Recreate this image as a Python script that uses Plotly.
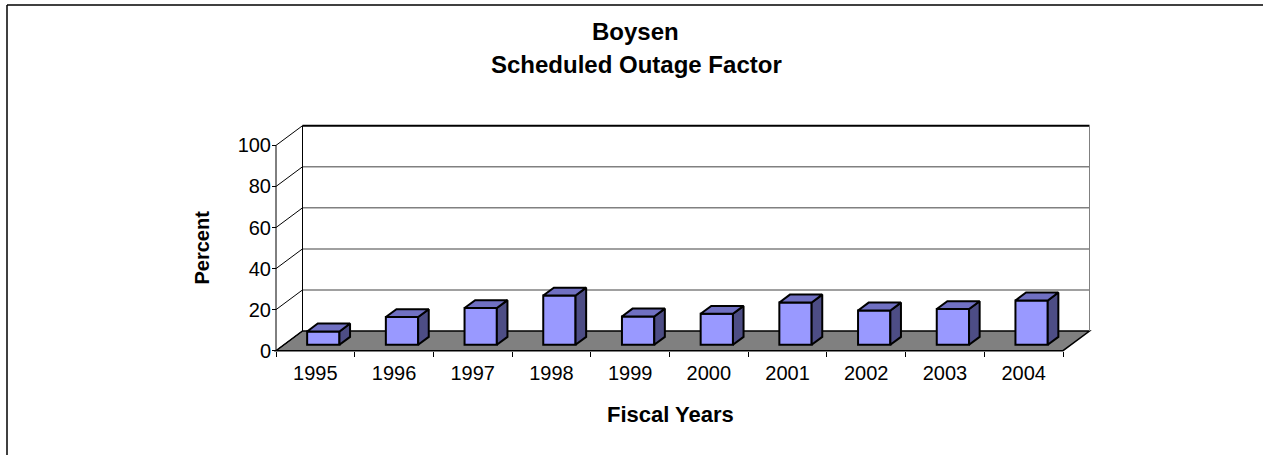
import plotly.graph_objects as go

# data
years = ['1995', '1996', '1997', '1998', '1999', '2000', '2001', '2002', '2003', '2004']
outage = [6.5, 13.5, 17.9, 24.0, 13.8, 15.1, 20.6, 16.7, 17.4, 21.6]
yticks = [0, 20, 40, 60, 80, 100]

W, H = 1263, 455
FONT = 'Liberation Sans, Arial, sans-serif'

# pixel geometry of the oblique "3D" plot
X0_PX, Y0_PX = 276.0, 350.7      # front-left corner of floor
CAT_PX, UNIT_PX = 78.7, 2.053    # one category / one percent
DEPTH_PX = (26.5, 19.7)          # floor depth offset (right, up)
BOX = (255, 1100, 110, 362)      # plot area left, right, top, bottom

DX = DEPTH_PX[0] / CAT_PX
DY = DEPTH_PX[1] / UNIT_PX
n = len(years)
idx = list(range(n))
xr0 = (BOX[0] - X0_PX) / CAT_PX - 0.5
xr1 = (BOX[1] - X0_PX) / CAT_PX - 0.5
yr0 = (Y0_PX - BOX[3]) / UNIT_PX
yr1 = (Y0_PX - BOX[2]) / UNIT_PX

d0, d1 = 0.3, 0.7
bar_w = 32.3 / CAT_PX
ddx, ddy = (d1 - d0) * DX, (d1 - d0) * DY
base = d0 * DY

fig = go.Figure()

# front faces
fig.add_trace(go.Bar(
    x=[i + d0 * DX for i in idx],
    y=outage,
    base=base,
    width=bar_w,
    marker=dict(color='#9999FF', line=dict(color='black', width=2)),
    hoverinfo='skip',
    showlegend=False
))

side_x, side_y, top_x, top_y = [], [], [], []
for i, v in zip(idx, outage):
    xl = i + d0 * DX - bar_w / 2
    xr = xl + bar_w
    side_x += [xr, xr + ddx, xr + ddx, xr, xr, None]
    side_y += [base, base + ddy, base + ddy + v, base + v, base, None]
    top_x += [xl, xr, xr + ddx, xl + ddx, xl, None]
    top_y += [base + v, base + v, base + v + ddy, base + v + ddy, base + v, None]

fig.add_trace(go.Scatter(x=side_x, y=side_y, mode='lines', fill='toself',
                         fillcolor='#4D4D85', line=dict(color='black', width=2),
                         hoverinfo='skip', showlegend=False))
fig.add_trace(go.Scatter(x=top_x, y=top_y, mode='lines', fill='toself',
                         fillcolor='#7070C2', line=dict(color='black', width=2),
                         hoverinfo='skip', showlegend=False))

# floor, walls and gridlines (below the bars)
xl0, xl1 = -0.5, n - 0.5
shapes = []
shapes.append(dict(type='path', xref='x', yref='y', layer='below',
                   path=f'M {xl0},0 L {xl1},0 L {xl1 + DX},{DY} L {xl0 + DX},{DY} Z',
                   fillcolor='#808080', line=dict(color='black', width=1.5)))
for v in yticks[1:]:
    last = v == yticks[-1]
    shapes.append(dict(type='line', xref='x', yref='y', layer='below',
                       x0=xl0 + DX, y0=DY + v, x1=xl1 + DX, y1=DY + v,
                       line=dict(color='black' if last else '#808080', width=2 if last else 1.5)))
for v in yticks:
    shapes.append(dict(type='line', xref='x', yref='y', layer='below',
                       x0=xl0, y0=v, x1=xl0 + DX, y1=DY + v,
                       line=dict(color='black', width=1)))
shapes.append(dict(type='line', xref='x', yref='y', layer='below',
                   x0=xl0, y0=0, x1=xl0, y1=yticks[-1], line=dict(color='black', width=1)))
shapes.append(dict(type='line', xref='x', yref='y', layer='below',
                   x0=xl0 + DX, y0=DY, x1=xl0 + DX, y1=DY + yticks[-1],
                   line=dict(color='black', width=1)))
shapes.append(dict(type='line', xref='x', yref='y', layer='below',
                   x0=xl1 + DX, y0=DY, x1=xl1 + DX, y1=DY + yticks[-1],
                   line=dict(color='#808080', width=1)))
# outer chart border (only top and left visible)
shapes.append(dict(type='line', xref='paper', yref='paper', x0=7 / W, y0=1 - 5 / H,
                   x1=1.01, y1=1 - 5 / H, line=dict(color='black', width=1.5)))
shapes.append(dict(type='line', xref='paper', yref='paper', x0=7 / W, y0=1 - 5 / H,
                   x1=7 / W, y1=-0.01, line=dict(color='black', width=1.5)))

fig.update_layout(
    width=W, height=H,
    margin=dict(l=0, r=0, t=0, b=0),
    paper_bgcolor='white', plot_bgcolor='rgba(0,0,0,0)',
    font=dict(family=FONT, color='black'),
    shapes=shapes,
    xaxis=dict(range=[xr0, xr1], domain=[BOX[0] / W, BOX[1] / W],
               anchor='free', position=1 - Y0_PX / H,
               tickvals=idx, ticktext=years, ticks='',
               tickfont=dict(size=20), ticklabelstandoff=8,
               minor=dict(tickvals=[i - 0.5 for i in range(n + 1)], ticks='outside',
                          ticklen=5, tickcolor='black', tickwidth=1, showgrid=False),
               showgrid=False, zeroline=False, showline=False, fixedrange=True),
    yaxis=dict(range=[yr0, yr1], domain=[1 - BOX[3] / H, 1 - BOX[2] / H],
               anchor='free', position=X0_PX / W,
               tickvals=yticks, ticks='outside', ticklen=4, tickcolor='black',
               tickfont=dict(size=20), ticklabelstandoff=-3,
               showgrid=False, zeroline=False, showline=False, fixedrange=True),
    annotations=[
        dict(text='<b>Boysen</b>', xref='paper', yref='paper', x=635 / W, y=1 - 32 / H,
             xanchor='center', yanchor='middle', showarrow=False,
             font=dict(family=FONT, size=24)),
        dict(text='<b>Scheduled Outage Factor</b>', xref='paper', yref='paper',
             x=636 / W, y=1 - 65 / H, xanchor='center', yanchor='middle', showarrow=False,
             font=dict(family=FONT, size=24)),
        dict(text='<b>Percent</b>', xref='paper', yref='paper', x=202 / W, y=1 - 247.5 / H,
             xanchor='center', yanchor='middle', textangle=-90, showarrow=False,
             font=dict(family=FONT, size=20)),
        dict(text='<b>Fiscal Years</b>', xref='paper', yref='paper', x=670 / W, y=1 - 414 / H,
             xanchor='center', yanchor='middle', showarrow=False,
             font=dict(family=FONT, size=22)),
    ],
)

fig.write_html('out.html', config={'displayModeBar': False},
               post_script="document.body.style.margin='0';")
